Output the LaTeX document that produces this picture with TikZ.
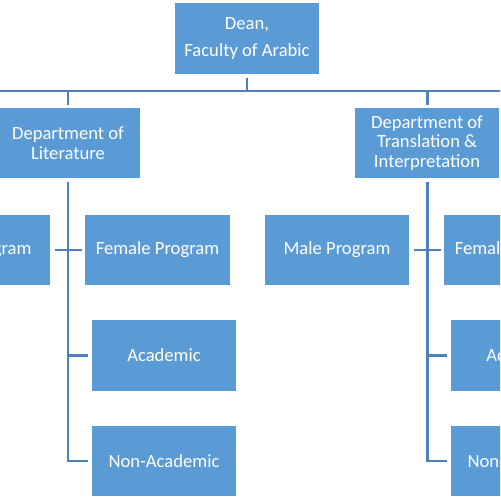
\documentclass[tikz,border=0pt]{standalone}
\usepackage{fontspec}
\setmainfont{Carlito}
\usetikzlibrary{positioning}
\definecolor{boxBlue}{HTML}{5B9BD5}
\definecolor{lineBlue}{HTML}{4E80BC}

\begin{document}
\begin{tikzpicture}[x=0.02cm, y=-0.02cm,
  font=\fontsize{10.6}{11.3}\selectfont,
  unit/.style={fill=boxBlue, text=white, align=center, inner sep=0pt,
               minimum width=2.9cm, minimum height=1.42cm},
  link/.style={draw=lineBlue, line width=1.7pt}]
  \useasboundingbox (0,0) rectangle (500,500);
  \clip (0,0) rectangle (500,500);
  \node[unit] (dean) at (247,38.5) {Dean,\\[4.6pt]Faculty of Arabic};
  \node[unit, minimum height=1.4cm] (lit) at (68,143) {Department of\\Literature};
  \node[unit, minimum height=1.4cm] (trans) at (427,143) {Department of\\Translation \&\\Interpretation};
  % bus under the dean
  \coordinate (busL) at (-10,91);
  \coordinate (busR) at (510,91);
  \draw[link] (busL) -- (busR);
  \draw[link, shorten <=2.3pt] (dean) -- (dean |- busL);
  % programs and staff under each department
  \foreach \d/\x in {lit/68, trans/427}{
    \node[unit] (\d male) at (\x-90,250) {Male Program};
    \node[unit] (\d fem) at (\x+89.5,250) {Female Program};
    \node[unit] (\d acad) at (\x+96,355.5) {Academic};
    \node[unit] (\d non) at (\x+96,461) {Non-Academic};
    \draw[link, shorten >=1.7pt] (\d |- busL) -- (\d);
    \draw[link, shorten <=2.3pt, shorten >=1.7pt] (\d) |- (\d non);
    \draw[link, shorten >=1.7pt] (\d |- \d acad) -- (\d acad);
    \draw[link, shorten <=2.3pt, shorten >=1.7pt] (\d male) -- (\d fem);
  }
\end{tikzpicture}
\end{document}
